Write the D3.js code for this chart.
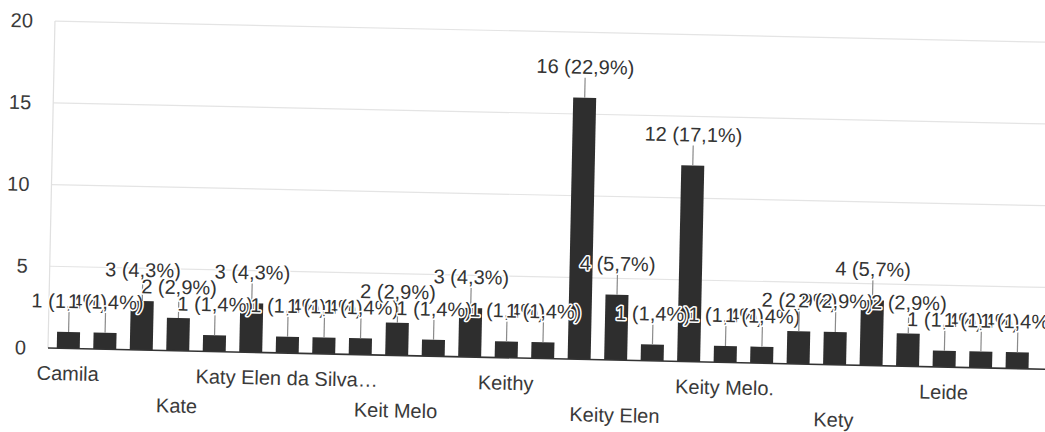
<!DOCTYPE html>
<html><head><meta charset="utf-8">
<script src="https://cdn.jsdelivr.net/npm/d3@7"></script>
<style>
html,body{margin:0;padding:0;background:#fff;}
svg{display:block;font-family:"Liberation Sans",Arial,sans-serif;}
</style></head>
<body>
<svg id="c" width="1045" height="432"></svg>
<script>
// Categories (only every third name is printed on the axis; unreadable ones left blank)
const categories = ["Camila","","","Kate","","","Katy Elen da Silva…","","","Keit Melo","","","Keithy","","","Keity Elen","","","Keity Melo.","","","Kety","","","Leide","",""];
const values = [1,1,3,2,1,3,1,1,1,2,1,3,1,1,16,4,1,12,1,1,2,2,4,2,1,1,1];
const yTicks = [0,5,10,15,20];
const total = 70;

const svg = d3.select("#c");
const W = 1045, H = 432;
svg.append("rect").attr("width",W).attr("height",H).attr("fill","#fff");

const x0 = 48, yBase = 348, yTop = 21;
const g = svg.append("g").attr("transform", `rotate(1.22, ${x0}, ${yBase})`);

const x = d3.scaleBand().domain(d3.range(values.length)).range([50, 1035.5]).paddingInner(0.37).paddingOuter(0.185);
const y = d3.scaleLinear().domain([0,20]).range([yBase, yTop]);

// gridlines
g.append("g").selectAll("line").data(yTicks.filter(d=>d>0)).join("line")
  .attr("x1", x0).attr("x2", 1080)
  .attr("y1", d=>y(d)).attr("y2", d=>y(d))
  .attr("stroke", "#e4e4e4").attr("stroke-width", 1.2);
// left axis line
g.append("line").attr("x1",x0).attr("x2",x0).attr("y1",y(20)).attr("y2",y(0))
  .attr("stroke","#e0e0e0").attr("stroke-width",1.2);

// y axis labels
const yAxis = d3.axisLeft(y).tickValues(yTicks).tickSize(0).tickPadding(22);
const ya = g.append("g").attr("transform",`translate(${x0},0)`).call(yAxis);
ya.select(".domain").remove();
ya.selectAll("text").attr("font-size",20).attr("fill","#3a3a3a").attr("font-family","Liberation Sans, Arial, sans-serif");

// bars
g.append("g").selectAll("rect").data(values).join("rect")
  .attr("x", (d,i)=>x(i)).attr("width", x.bandwidth())
  .attr("y", d=>y(d)).attr("height", d=>y(0)-y(d))
  .attr("fill", "#2e2e2e");

// baseline
g.append("line").attr("x1",x0).attr("x2",1080).attr("y1",y(0)).attr("y2",y(0))
  .attr("stroke","#333").attr("stroke-width",1.6);

// x axis labels (every third, alternating rows)
const xAxis = d3.axisBottom(x).tickValues(d3.range(0, values.length, 3)).tickSize(0).tickFormat(i=>categories[i]);
const xa = g.append("g").attr("transform",`translate(0,${yBase})`).call(xAxis);
xa.select(".domain").remove();
xa.selectAll("text").attr("font-size",20).attr("fill","#3a3a3a")
  .attr("font-family","Liberation Sans, Arial, sans-serif")
  .attr("dy",0).attr("y", (i)=> (i/3)%2===0 ? 32 : 62);

// annotations: leader line + label, drawn in order
const fmt = v => `${v} (${(v/total*100).toFixed(1).replace(".",",")}%)`;
const ann = g.append("g");
values.forEach((v,i)=>{
  const cx = x(i) + x.bandwidth()/2, top = y(v);
  ann.append("line").attr("x1",cx).attr("x2",cx).attr("y1",top).attr("y2",top-20)
    .attr("stroke","#8a8a8a").attr("stroke-width",1.2);
  ann.append("text").attr("x",cx).attr("y",top-24).attr("text-anchor","middle")
    .attr("font-size",20).attr("fill","#333")
    .attr("stroke","#fff").attr("stroke-width",3).attr("paint-order","stroke")
    .attr("stroke-linejoin","round")
    .text(fmt(v));
});
</script>
</body></html>
